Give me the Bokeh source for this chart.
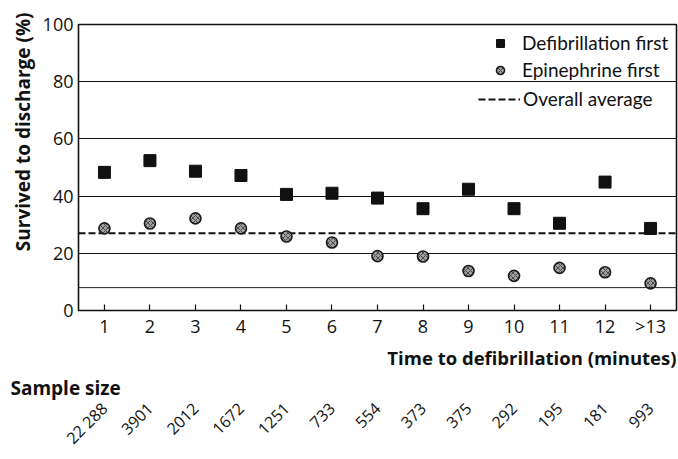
from math import pi
from bokeh.plotting import figure
from bokeh.layouts import column
from bokeh.models import (Range1d, FixedTicker, Span, Title, Legend, LegendItem)
from bokeh.embed import file_html
from bokeh.resources import INLINE

# ---- data ----
minutes = [1, 2, 3, 4, 5, 6, 7, 8, 9, 10, 11, 12, 13]
tick_labels = ["1", "2", "3", "4", "5", "6", "7", "8", "9", "10", "11", "12", ">13"]
defib_first = [48.3, 52.4, 48.7, 47.2, 40.6, 41.0, 39.3, 35.6, 42.4, 35.6, 30.5, 44.9, 28.7]
epi_first = [28.7, 30.4, 32.2, 28.7, 25.9, 23.8, 19.0, 18.9, 13.8, 12.1, 14.9, 13.4, 9.5]
overall_average = 27.0
sample_size = ["22 288", "3901", "2012", "1672", "1251", "733", "554", "373", "375",
               "292", "195", "181", "993"]

FONT = "Open Sans"
LEG_FONT = "Lato"
INK = "#111111"

W = 678
H_TOP = 372
H_BOT = 459 - H_TOP
FL, FR = 78, 2            # frame borders (px)
X0, X1 = 0.43, 13.57

xr = Range1d(X0, X1)
p = figure(width=W, height=H_TOP, output_backend="svg", toolbar_location=None,
           x_range=xr, y_range=Range1d(0, 100),
           min_border_left=FL, min_border_top=24, min_border_right=FR, min_border_bottom=62)
p.outline_line_color = INK
p.outline_line_width = 1.6
p.background_fill_color = "white"
p.border_fill_color = "white"

# grid
p.xgrid.grid_line_color = None
p.ygrid.ticker = FixedTicker(ticks=[20, 40, 60, 80])
p.ygrid.grid_line_color = INK
p.ygrid.grid_line_width = 1.2

# y axis
p.yaxis.ticker = FixedTicker(ticks=[0, 20, 40, 60, 80, 100])
p.yaxis.axis_line_color = None
p.yaxis.major_tick_in = 0
p.yaxis.major_tick_out = 0
p.yaxis.minor_tick_line_color = None
p.yaxis.major_label_standoff = 5
p.yaxis.major_label_text_font = FONT
p.yaxis.major_label_text_font_size = "18px"
p.yaxis.major_label_text_color = INK

# x axis
p.xaxis.ticker = FixedTicker(ticks=minutes)
p.xaxis.major_label_overrides = {m: t for m, t in zip(minutes, tick_labels)}
p.xaxis.axis_line_color = None
p.xaxis.major_tick_in = 6
p.xaxis.major_tick_out = 0
p.xaxis.major_tick_line_color = INK
p.xaxis.major_tick_line_width = 1.2
p.xaxis.minor_tick_line_color = None
p.xaxis.major_label_standoff = 3
p.xaxis.major_label_text_font = FONT
p.xaxis.major_label_text_font_size = "18px"
p.xaxis.major_label_text_color = INK

# axis titles
p.add_layout(Title(text="Survived to discharge (%)", align="right", offset=-12, standoff=7,
                   text_font=FONT, text_font_style="bold", text_font_size="19px",
                   text_color=INK), "left")
p.add_layout(Title(text="Time to defibrillation (minutes)", align="right", standoff=4,
                   text_font=FONT, text_font_style="bold", text_font_size="18.5px",
                   text_color=INK), "below")

# stray scan line
p.add_layout(Span(location=8, dimension="width", line_color="#222222", line_width=1))

# overall average
avg_r = p.line(x=[X0, X1], y=[overall_average, overall_average], line_color=INK,
               line_width=2, line_dash="7 3")

# series
sq = p.scatter(minutes, defib_first, marker="square", size=12, fill_color=INK,
               line_color=INK)
ci = p.scatter(minutes, epi_first, marker="circle", size=11, fill_color="#a0a0a0",
               line_color="#1a1a1a", line_width=1.6, hatch_pattern="x", hatch_color="#333333",
               hatch_scale=5, hatch_weight=0.8)

# legends
leg1 = Legend(items=[LegendItem(label="Defibrillation first", renderers=[sq]),
                     LegendItem(label="Epinephrine first", renderers=[ci])],
              location=(412, 229), glyph_width=20, glyph_height=20, label_height=20,
              label_standoff=12, spacing=4, padding=0, margin=0,
              border_line_color=None, background_fill_alpha=0,
              label_text_font=LEG_FONT, label_text_font_size="19px", label_text_color=INK)
leg2 = Legend(items=[LegendItem(label="Overall average", renderers=[avg_r])],
              location=(400, 200), glyph_width=42, glyph_height=20, label_height=20,
              label_standoff=3, spacing=0, padding=0, margin=0,
              border_line_color=None, background_fill_alpha=0,
              label_text_font=LEG_FONT, label_text_font_size="19px", label_text_color=INK)
p.add_layout(leg1)
p.add_layout(leg2)

# ---- sample-size strip: heading + rotated axis labels on the same x scale ----
q = figure(width=W, height=H_BOT, output_backend="svg", toolbar_location=None,
           title="Sample size", x_range=xr, y_range=Range1d(0, 1), y_axis_type=None,
           min_border_left=FL, min_border_right=FR, min_border_top=0, min_border_bottom=0)
q.outline_line_color = None
q.grid.visible = False
q.background_fill_color = "white"
q.border_fill_color = "white"
q.title.align = "left"
q.title.offset = -68
q.title.standoff = 0
q.title.text_font = FONT
q.title.text_font_style = "bold"
q.title.text_font_size = "19px"
q.title.text_color = INK

q.xaxis.ticker = FixedTicker(ticks=minutes)
q.xaxis.major_label_overrides = {m: s for m, s in zip(minutes, sample_size)}
q.xaxis.major_label_orientation = pi / 4
q.xaxis.axis_line_color = None
q.xaxis.major_tick_in = 0
q.xaxis.major_tick_out = 0
q.xaxis.minor_tick_line_color = None
q.xaxis.major_label_standoff = 2
q.xaxis.major_label_text_font = FONT
q.xaxis.major_label_text_font_size = "16px"
q.xaxis.major_label_text_color = INK

layout = column(p, q, spacing=0)
open("out.html", "w").write(file_html(layout, INLINE))
